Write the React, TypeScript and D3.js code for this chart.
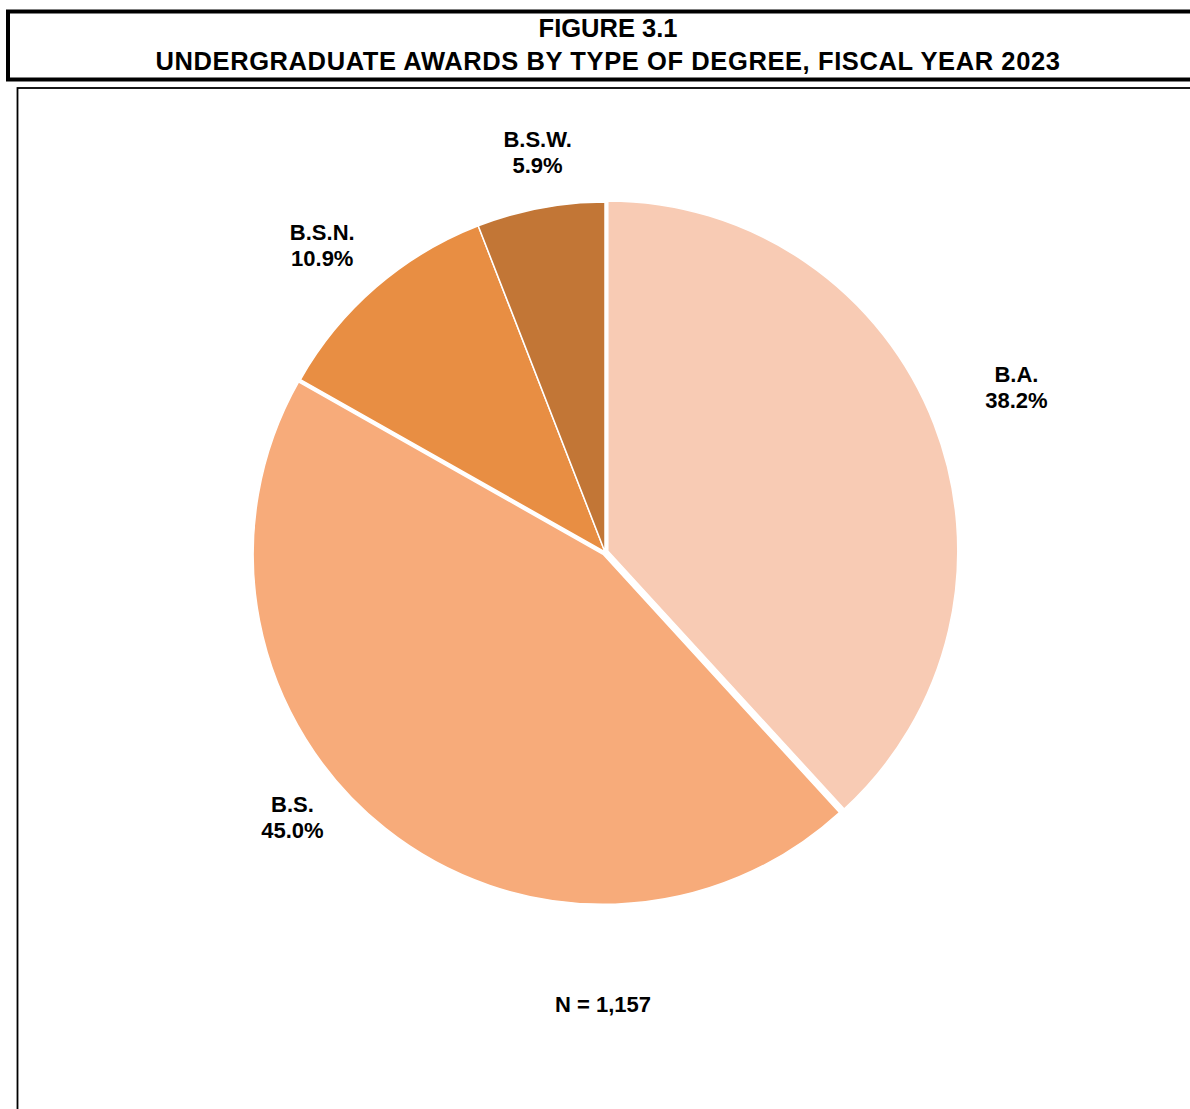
import { useEffect, useRef } from "react";
import * as d3 from "d3";

// Data
const degrees = ["B.A.", "B.S.", "B.S.N.", "B.S.W."];
const shares = [38.2, 45.0, 10.9, 5.9];
const colors = ["#F8CBB4", "#F7AB7A", "#E88E43", "#C27636"];
const titleLines = ["FIGURE 3.1", "UNDERGRADUATE AWARDS BY TYPE OF DEGREE, FISCAL YEAR 2023"];
const footnote = "N = 1,157";

// layout tweaks (Excel best-fit label placement)
const explode: Record<string, number> = { "B.A.": 3, "B.S.": 3, "B.S.N.": 0, "B.S.W.": 0 };
const labelNudge: Record<string, [number, number]> = {
  "B.A.": [20, -18],
  "B.S.": [-51, -69],
  "B.S.N.": [-8, 6],
  "B.S.W.": [10, 8],
};

const W = 1190;
const H = 1109;
const FONT = "'Liberation Sans', Arial, Helvetica, sans-serif";

export default function App() {
  const svgRef = useRef<SVGSVGElement>(null);

  useEffect(() => {
    document.body.style.margin = "0";
    document.body.style.overflow = "hidden";
    if (!svgRef.current) return;

    const svg = d3.select(svgRef.current);
    svg.selectAll("*").remove();

    // Title box
    svg
      .append("rect")
      .attr("x", 8)
      .attr("y", 11.5)
      .attr("width", 1200)
      .attr("height", 68)
      .attr("fill", "#fff")
      .attr("stroke", "#000")
      .attr("stroke-width", 4);

    svg
      .selectAll("text.title")
      .data(titleLines)
      .join("text")
      .attr("class", "title")
      .attr("x", 608)
      .attr("y", (_, i) => 37 + i * 33)
      .attr("text-anchor", "middle")
      .style("font-family", FONT)
      .style("font-size", "25.5px")
      .style("font-weight", "700")
      .style("letter-spacing", (_, i) => (i === 1 ? "0.6px" : "0px"))
      .style("fill", "#000")
      .text((d) => d);

    // Chart frame
    svg
      .append("rect")
      .attr("x", 17.5)
      .attr("y", 88)
      .attr("width", 1200)
      .attr("height", 1100)
      .attr("fill", "none")
      .attr("stroke", "#000")
      .attr("stroke-width", 1.8);

    const cx = 605;
    const cy = 552;
    const radius = 350;
    const labelRadius = 420;

    const rows = degrees.map((name, i) => ({ name, value: shares[i], color: colors[i] }));

    const pie = d3
      .pie<{ name: string; value: number; color: string }>()
      .sort(null)
      .value((d) => d.value)
      .startAngle(0)
      .endAngle(2 * Math.PI);

    const arcs = pie(rows);

    const arc = d3
      .arc<d3.PieArcDatum<{ name: string; value: number; color: string }>>()
      .innerRadius(0)
      .outerRadius(radius);

    const labelArc = d3
      .arc<d3.PieArcDatum<{ name: string; value: number; color: string }>>()
      .innerRadius(labelRadius)
      .outerRadius(labelRadius);

    const g = svg.append("g").attr("transform", `translate(${cx},${cy})`);

    g.selectAll("path.slice")
      .data(arcs)
      .join("path")
      .attr("class", "slice")
      .attr("transform", (d) => {
        const mid = (d.startAngle + d.endAngle) / 2;
        const off = explode[d.data.name] || 0;
        return `translate(${off * Math.sin(mid)},${-off * Math.cos(mid)})`;
      })
      .attr("d", arc)
      .attr("fill", (d) => d.data.color)
      .attr("stroke", "#fff")
      .attr("stroke-width", 1.5)
      .attr("stroke-linejoin", "round");

    const labels = g
      .selectAll("text.label")
      .data(arcs)
      .join("text")
      .attr("class", "label")
      .attr("text-anchor", "middle")
      .style("font-family", FONT)
      .style("font-size", "22px")
      .style("font-weight", "700")
      .style("fill", "#000")
      .attr("transform", (d) => {
        const [x, y] = labelArc.centroid(d);
        const [nx, ny] = labelNudge[d.data.name] || [0, 0];
        return `translate(${x + nx},${y + ny})`;
      });

    labels
      .append("tspan")
      .attr("x", 0)
      .attr("y", 0)
      .text((d) => d.data.name);

    labels
      .append("tspan")
      .attr("x", 0)
      .attr("y", 26)
      .text((d) => `${d.data.value.toFixed(1)}%`);

    // N footnote
    svg
      .append("text")
      .attr("x", 603)
      .attr("y", 1012)
      .attr("text-anchor", "middle")
      .style("font-family", FONT)
      .style("font-size", "22px")
      .style("font-weight", "700")
      .style("fill", "#000")
      .text(footnote);
  }, []);

  return (
    <svg
      ref={svgRef}
      width={W}
      height={H}
      style={{ display: "block", background: "#fff" }}
    />
  );
}
